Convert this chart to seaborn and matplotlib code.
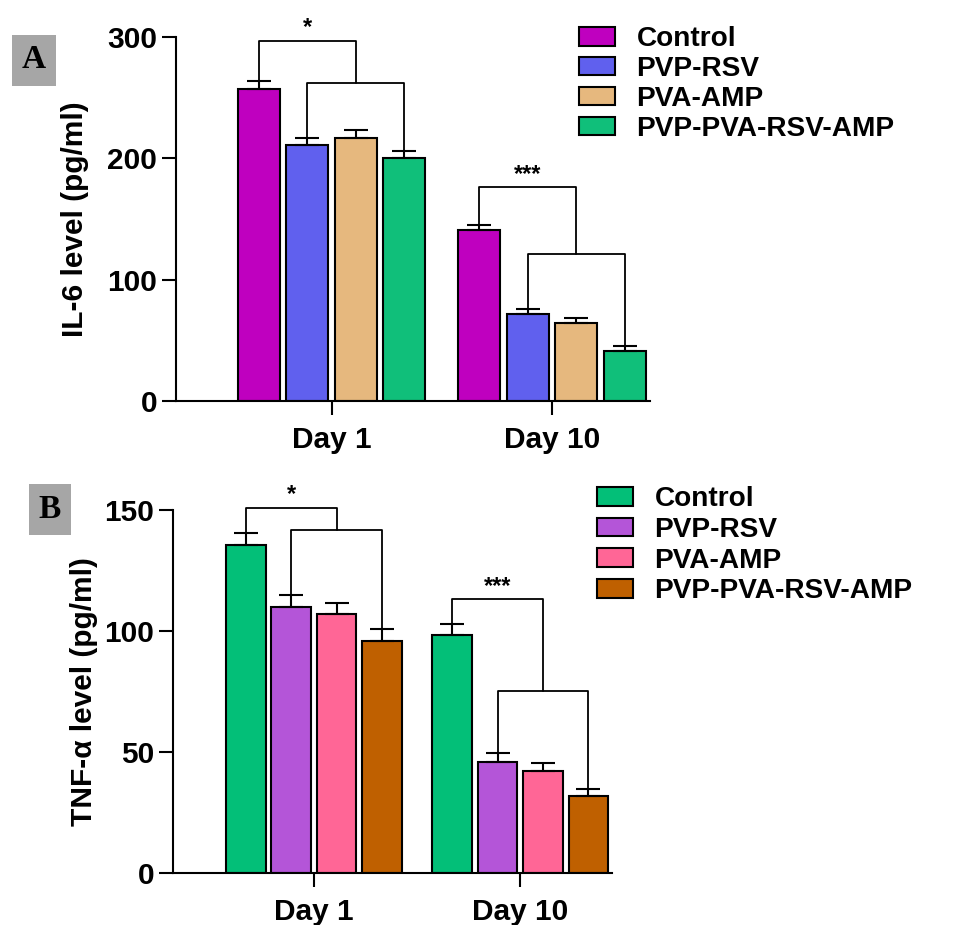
import numpy as np
import pandas as pd
import matplotlib
matplotlib.use('Agg')
import matplotlib.pyplot as plt
import seaborn as sns

days = ['Day 1', 'Day 10']
groups = ['Control', 'PVP-RSV', 'PVA-AMP', 'PVP-PVA-RSV-AMP']

# IL-6 (panel A), rows = days, columns = groups
il6_mean = [[257, 211, 217, 200], [141, 72, 64.5, 41]]
il6_sd = [[6.5, 6, 6, 6], [4, 4, 4, 4]]
# TNF-alpha (panel B)
tnf_mean = [[135.7, 110, 106.9, 96], [98.5, 46, 42, 32]]
tnf_sd = [[5, 5, 4.7, 4.8], [4.2, 3.6, 3.3, 2.7]]

colors_a = ['#bf00bf', '#6060ee', '#e6b87e', '#10bf7a']
colors_b = ['#03bf78', '#b455d8', '#ff6696', '#bf6000']

sns.set_style('ticks', {'text.color': 'black', 'axes.edgecolor': 'black',
                        'axes.labelcolor': 'black', 'xtick.color': 'black',
                        'ytick.color': 'black'})
plt.rcParams['font.family'] = ['Liberation Sans', 'DejaVu Sans']
plt.rcParams['font.weight'] = 'bold'
plt.rcParams['axes.linewidth'] = 1.5

W, H = 966, 925
fig = plt.figure(figsize=(W / 100, H / 100), dpi=100)


def make_df(means, sds):
    rows = []
    for i, d in enumerate(days):
        for j, g in enumerate(groups):
            rows.append({'day': d, 'group': g, 'value': means[i][j], 'sd': sds[i][j]})
    return pd.DataFrame(rows)


def panel(rect, means, sds, colors, ylim, yticks, ylabel, ylab_x, xlim, brackets,
          stars, leg_anchor, leg_space, tag, tag_xy):
    ax = fig.add_axes(rect)
    df = make_df(means, sds)
    sns.barplot(data=df, x='day', y='value', hue='group', hue_order=groups,
                palette=colors, width=0.88, gap=0.13, edgecolor='black',
                linewidth=1.5, errorbar=None, ax=ax, saturation=1)
    bar_conts = list(ax.containers)[:len(groups)]
    # error bars (upper only) and bar centres
    centers = np.zeros((len(days), len(groups)))
    tops = np.zeros((len(days), len(groups)))
    for j, cont in enumerate(bar_conts):
        for i, bar in enumerate(cont):
            cx = bar.get_x() + bar.get_width() / 2
            centers[i, j] = cx
            tops[i, j] = means[i][j] + sds[i][j]
            ax.errorbar(cx, means[i][j], yerr=[[0], [sds[i][j]]], fmt='none',
                        ecolor='black', elinewidth=1.5, capsize=8.5, capthick=1.5,
                        zorder=3)
    # significance brackets
    for i in range(len(days)):
        h_top, h_low = brackets[i]
        x1, x3 = centers[i, 1], centers[i, 3]
        ax.plot([x1, x1, x3, x3], [tops[i, 1], h_low, h_low, tops[i, 3]],
                color='black', lw=1.3, clip_on=False)
        xm = (x1 + x3) / 2
        x0 = centers[i, 0]
        ax.plot([x0, x0, xm, xm], [tops[i, 0], h_top, h_top, h_low],
                color='black', lw=1.3, clip_on=False)
        ax.annotate(stars[i], xy=((x0 + xm) / 2, h_top), xytext=(0, 1),
                    textcoords='offset points', ha='center', va='bottom',
                    fontsize=17, fontweight='bold', annotation_clip=False)
    ax.set_ylim(*ylim)
    ax.set_yticks(yticks)
    ax.set_xlim(*xlim)
    ax.set_xlabel('')
    ax.set_ylabel(ylabel, fontsize=21.5, fontweight='bold')
    ax.yaxis.set_label_coords(ylab_x, 0.5)
    ax.tick_params(axis='both', labelsize=21.5, length=10, width=1.5)
    ax.tick_params(axis='x', pad=8)
    for lab in ax.get_xticklabels() + ax.get_yticklabels():
        lab.set_fontweight('bold')
    sns.despine(ax=ax)
    leg = ax.legend(loc='upper left', bbox_to_anchor=leg_anchor,
                    bbox_transform=fig.transFigure, frameon=False,
                    prop={'weight': 'bold', 'size': 20.2}, handlelength=1.3,
                    handleheight=0.65, handletextpad=0.75, labelspacing=leg_space,
                    borderpad=0, borderaxespad=0)
    for h in leg.legend_handles:
        h.set_edgecolor('black')
        h.set_linewidth(1.5)
    fig.text(tag_xy[0] / W, 1 - tag_xy[1] / H, tag, ha='center', va='center',
             fontsize=24, fontweight='bold', family='Liberation Serif',
             color='black',
             bbox=dict(boxstyle='square,pad=0.3', fc='#a6a6a6', ec='none'))
    return ax


panel([176 / W, 1 - 401 / H, 474 / W, 364 / H], il6_mean, il6_sd, colors_a,
      (0, 300), [0, 100, 200, 300], 'IL-6 level (pg/ml)', -0.184, (-0.706, 1.445),
      [(297, 262.4), (176.4, 121)], ['*', '***'],
      (579 / W, 1 - 26 / H), 0.14, 'A', (34, 60))

panel([173 / W, 1 - 873 / H, 439 / W, 363 / H], tnf_mean, tnf_sd, colors_b,
      (0, 150), [0, 50, 100, 150], 'TNF-α level (pg/ml)', -0.171, (-0.683, 1.445),
      [(151, 141.7), (113.2, 75.2)], ['*', '***'],
      (597 / W, 1 - 486 / H), 0.17, 'B', (50, 509))

fig.savefig('out.png', dpi=100)
